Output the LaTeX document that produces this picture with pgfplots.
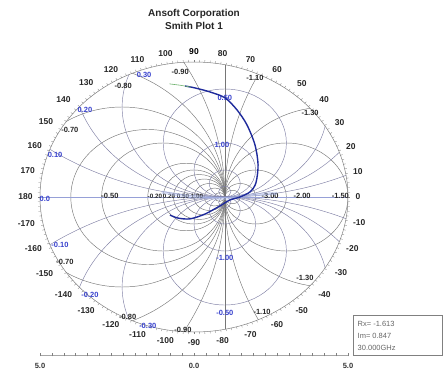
\documentclass[border=0pt]{standalone}
\usepackage{pgfplots}
\pgfplotsset{compat=1.18}
\usepackage{fontspec}
\setmainfont{Liberation Sans}

\definecolor{gridR}{RGB}{118,118,118}
\definecolor{gridX}{RGB}{128,128,165}
\definecolor{axisblue}{RGB}{150,160,215}
\definecolor{lblblue}{RGB}{55,65,205}
\definecolor{trace}{RGB}{30,42,155}
\definecolor{tracegreen}{RGB}{110,178,110}
\definecolor{haze}{RGB}{170,185,235}

\newcommand\rimfont{\fontsize{8.5}{9}\selectfont\bfseries}
\newcommand\inlbl{\fontsize{7.5}{8}\selectfont\bfseries}
\newcommand\smlbl{\fontsize{6.3}{7}\selectfont\bfseries}

\begin{document}
\begin{tikzpicture}
% chart furniture: reflection plane shown out to |Gamma| = 5
\begin{scope}[x=30.8pt,y=27pt]
  \begin{scope}
    \clip (0,0) ellipse [x radius=154pt, y radius=135pt];
    % constant-resistance circles (positive and negative r)
    \foreach \r in {5,2,1,0.5,0.2,0,-0.2,-0.5,-0.6,-0.7,-0.8,-0.9,-1.1,-1.3,-1.5,-2,-3,-5} {
      \pgfmathsetmacro\c{\r/(1+(\r))}
      \pgfmathsetmacro\rad{1/abs(1+(\r))}
      \draw[gridR, line width=0.45pt] (\c,0) ellipse [x radius=\rad*30.8pt, y radius=\rad*27pt];
    }
    \draw[gridR, line width=0.5pt] (1,-5) -- (1,5);
    % constant-reactance circles
    \foreach \xv in {0.1,0.2,0.3,0.5,1,2,5} {
      \pgfmathsetmacro\rad{1/\xv}
      \draw[gridX, line width=0.45pt] (1,\rad) ellipse [x radius=\rad*30.8pt, y radius=\rad*27pt];
      \draw[gridX, line width=0.45pt] (1,-\rad) ellipse [x radius=\rad*30.8pt, y radius=\rad*27pt];
    }
    \draw[axisblue, line width=0.6pt] (-5,0) -- (5,0);
  \end{scope}
  % outer rim with angle ticks
  \draw[gray, line width=0.5pt] (0,0) ellipse [x radius=154pt, y radius=135pt];
  \foreach \a in {0,2,...,358} {
    \draw[gray, line width=0.35pt] (\a:5) -- ++(\a:2.2pt);
  }
  \foreach \a/\an in {-170/10,-160/20,-150/30,-140/40,-130/50,-120/60,-110/70,-100/80,-90/north,-80/100,-70/110,-60/120,-50/130,-40/140,-30/150,-20/160,-10/170,0/west,10/190,20/200,30/210,40/220,50/230,60/240,70/250,80/260,100/280,110/290,120/300,130/310,140/320,150/330,160/340,170/350,180/east} {
    \node[font=\rimfont, text=black!85, inner sep=0.5pt, outer sep=7pt, anchor=\an] at (\a:5) {\a};
  }
  % resistance labels on the real axis
  \begin{scope}[every node/.style={font=\inlbl, text=black!85, inner sep=0.5pt}]
    \node at (-2.73,0.04) {-0.50};
    \node at (2.47,0.04) {-3.00};
    \node at (3.51,0.04) {-2.00};
    \node at (4.75,0.04) {-1.50};
    % negative-resistance labels at the rim
    \node at (-4.03,2.48) {-0.70};
    \node at (-4.19,-2.41) {-0.70};
    \node at (-2.30,4.12) {-0.80};
    \node at (-2.15,-4.45) {-0.80};
    \node at (-0.45,4.63) {-0.90};
    \node at (-0.36,-4.93) {-0.90};
    \node at (1.98,4.41) {-1.10};
    \node at (2.21,-4.26) {-1.10};
    \node at (3.77,3.11) {-1.30};
    \node at (3.60,-3.00) {-1.30};
  \end{scope}
  \begin{scope}[every node/.style={font=\smlbl, text=black!85, inner sep=0.3pt}]
    \node at (-1.27,0.04) {-0.20};
    \node at (-0.81,0.04) {0.20};
    \node at (-0.36,0.04) {0.50};
    \node at (0.10,0.04) {1.00};
  \end{scope}
  % reactance labels
  \begin{scope}[every node/.style={font=\inlbl, text=lblblue, inner sep=0.5pt}]
    \node at (-4.84,-0.08) {0.0};
    \node at (-4.51,1.56) {0.10};
    \node at (-4.35,-1.78) {-0.10};
    \node at (-3.54,3.22) {0.20};
    \node at (-3.38,-3.63) {-0.20};
    \node at (-1.62,4.52) {0.30};
    \node at (-1.50,-4.76) {-0.30};
    \node at (1.00,3.67) {0.50};
    \node at (1.00,-4.30) {-0.50};
    \node at (0.91,1.93) {1.00};
    \node at (1.00,-2.26) {-1.00};
  \end{scope}
  % magnitude ruler below the chart
  \draw[gray!70, line width=0.4pt] (-5,-5.85) -- (5,-5.85);
  \foreach \i in {0,...,26} {
    \pgfmathsetmacro\xx{-5+\i*10/26}
    \draw[gray, line width=0.35pt] (\xx,-5.85) ++(0,-1.5pt) -- ++(0,3pt);
  }
  \begin{scope}[every node/.style={font=\inlbl, text=black!80, inner sep=0.5pt}]
    \node at (-5,-6.25) {5.0};
    \node at (0,-6.25) {0.0};
    \node at (5,-6.25) {5.0};
  \end{scope}
\end{scope}

% title
\node[font=\fontsize{10}{11}\selectfont\bfseries, text=black!85] at (0pt,183pt) {Ansoft Corporation};
\node[font=\fontsize{10}{11}\selectfont\bfseries, text=black!85] at (0pt,171pt) {Smith Plot 1};

% marker readout
\draw[gray, line width=0.5pt] (159pt,-118pt) rectangle (248pt,-158pt);
\begin{scope}[every node/.style={font=\fontsize{7.5}{8}\selectfont, text=black!60, anchor=west, inner sep=0.5pt}]
  \node at (163pt,-127pt) {Rx= -1.613};
  \node at (163pt,-139pt) {Im= 0.847};
  \node at (163pt,-151pt) {30.000GHz};
\end{scope}

% measured reflection coefficient trace
\begin{axis}[anchor=origin, at={(0pt,0pt)}, x=30.8pt, y=27pt,
  xmin=-5, xmax=5, ymin=-5, ymax=5, hide axis, clip=false]
  \addplot[haze, line width=3pt, opacity=0.45, smooth] coordinates {
    (-1.05,0.18) (-0.5,0.08) (0.2,0.0) (1.0,-0.05) (1.7,0.06) (2.7,0.14)
  };
  \addplot[trace, line width=1.4pt, smooth] coordinates {
    (-0.29,4.11) (0.03,4.04) (0.52,3.89) (1.01,3.67) (1.40,3.22) (1.72,2.67)
    (1.98,1.93) (2.08,1.19) (2.01,0.52) (1.82,0.19) (1.49,0.0) (1.17,-0.11)
    (0.84,-0.33) (0.36,-0.63) (-0.13,-0.81) (-0.52,-0.78) (-0.78,-0.67)
  };
  \addplot[tracegreen, line width=0.6pt] coordinates {
    (-0.80,4.19) (-0.45,4.14) (-0.10,4.07)
  };
\end{axis}

% top angle mark of the rim scale
\node[text=black, inner sep=0.5pt, anchor=south] at (0pt,142pt) {\fontsize{8.5}{9}\selectfont\bfseries 9\kern0.1pt0};

\pgfresetboundingbox
\path[use as bounding box] (-194pt,-173pt) rectangle (250pt,197pt);
\end{tikzpicture}
\end{document}
